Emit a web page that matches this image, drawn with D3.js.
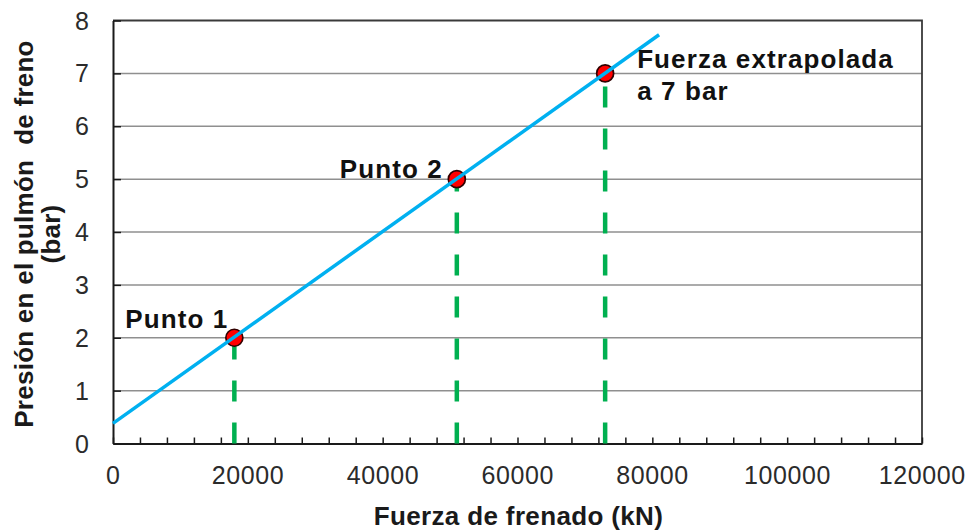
<!DOCTYPE html>
<html>
<head>
<meta charset="utf-8">
<script src="https://cdn.jsdelivr.net/npm/d3@7/dist/d3.min.js"></script>
<style>
  html, body { margin: 0; padding: 0; background: #fff; }
  svg { display: block; }
  text { font-family: "Liberation Sans", Arial, sans-serif; }
</style>
</head>
<body>
<svg id="chart" width="968" height="530"></svg>
<script>
// ---- data ----
const xTicks = [0, 20000, 40000, 60000, 80000, 100000, 120000];
const yTicks = [0, 1, 2, 3, 4, 5, 6, 7, 8];
const pointLabels = ["Punto 1", "Punto 2", "Fuerza extrapolada|a 7 bar"];
const pointForce = [18000, 51000, 73000];
const pointPressure = [2, 5, 7];
const lineForce = [0, 81000];
const linePressure = [0.38, 7.73];
const xTitle = "Fuerza de frenado (kN)";
const yTitle = ["Presión en el pulmón  de freno", "(bar)"];

// ---- layout ----
const plotL = 113, plotR = 922, plotT = 20.5, plotB = 443.5;

const svg = d3.select("#chart");
const x = d3.scaleLinear().domain([0, 120000]).range([plotL, plotR]);
const y = d3.scaleLinear().domain([0, 8]).range([plotB, plotT]);

// gridlines
svg.append("g").selectAll("line").data(yTicks.filter(v => v > 0 && v < 8)).join("line")
  .attr("x1", plotL).attr("x2", plotR)
  .attr("y1", d => y(d)).attr("y2", d => y(d))
  .attr("stroke", "#8f8f8f").attr("stroke-width", 1.5);

// plot border (top, right)
svg.append("path")
  .attr("d", `M${plotL},${plotT}H${plotR}V${plotB}`)
  .attr("fill", "none").attr("stroke", "#3a3a3a").attr("stroke-width", 1.8);

// x axis with inward minor ticks every 4000
const xAxis = d3.axisBottom(x).tickValues(d3.range(0, 120001, 4000))
  .tickSize(-6).tickSizeOuter(0).tickFormat("");
const gx = svg.append("g").attr("transform", `translate(0,${plotB})`).call(xAxis);
gx.select(".domain").attr("stroke", "#1a1a1a").attr("stroke-width", 2);
gx.selectAll(".tick line").attr("stroke", "#1a1a1a").attr("stroke-width", 1.5);

svg.append("g").selectAll("text").data(xTicks).join("text")
  .attr("x", d => x(d) + 0.3).attr("y", 484)
  .attr("text-anchor", "middle")
  .attr("font-size", 25).attr("fill", "#2b2b2b")
  .attr("letter-spacing", 0.6)
  .text(d => d);

// y axis with inward ticks
const yAxis = d3.axisLeft(y).tickValues(yTicks).tickSize(-8).tickSizeOuter(0).tickFormat("");
const gy = svg.append("g").attr("transform", `translate(${plotL},0)`).call(yAxis);
gy.select(".domain").attr("stroke", "#1a1a1a").attr("stroke-width", 2);
gy.selectAll(".tick line").attr("stroke", "#1a1a1a").attr("stroke-width", 1.5);

svg.append("g").selectAll("text").data(yTicks).join("text")
  .attr("x", 89).attr("y", d => y(d))
  .attr("dy", "0.36em")
  .attr("text-anchor", "end")
  .attr("font-size", 25).attr("fill", "#2b2b2b")
  .text(d => d);

// green dashed drop lines (drawn from axis upward)
svg.append("g").selectAll("line").data(pointForce).join("line")
  .attr("x1", d => x(d)).attr("x2", d => x(d))
  .attr("y1", plotB).attr("y2", (d, i) => y(pointPressure[i]))
  .attr("stroke", "#00b050").attr("stroke-width", 4.5)
  .attr("stroke-dasharray", "21,21");

// points
svg.append("g").selectAll("circle").data(pointForce).join("circle")
  .attr("cx", d => x(d)).attr("cy", (d, i) => y(pointPressure[i]))
  .attr("r", 8.5)
  .attr("fill", "#ff0000").attr("stroke", "#300000").attr("stroke-width", 1.7);

// regression line
const lineData = lineForce.map((f, i) => [f, linePressure[i]]);
svg.append("path")
  .datum(lineData)
  .attr("d", d3.line().x(d => x(d[0])).y(d => y(d[1])))
  .attr("fill", "none").attr("stroke", "#00b0f0").attr("stroke-width", 3.5);

// point labels
const labelPos = [
  { dx: -6, dy: -10, anchor: "end" },
  { dx: -14, dy: -1, anchor: "end" },
  { dx: 32, dy: -5, anchor: "start" }
];
pointLabels.forEach((lab, i) => {
  const lines = lab.split("|");
  const t = svg.append("text")
    .attr("font-size", 26).attr("font-weight", "bold").attr("fill", "#111")
    .attr("letter-spacing", 1.1)
    .attr("text-anchor", labelPos[i].anchor);
  lines.forEach((ln, j) => {
    t.append("tspan")
      .attr("x", x(pointForce[i]) + labelPos[i].dx)
      .attr("y", y(pointPressure[i]) + labelPos[i].dy + j * 32)
      .text(ln);
  });
});

// axis titles
svg.append("text")
  .attr("x", (plotL + plotR) / 2 + 1).attr("y", 525)
  .attr("text-anchor", "middle")
  .attr("font-size", 26).attr("font-weight", "bold").attr("fill", "#1a1a1a")
  .attr("letter-spacing", 0.35)
  .text(xTitle);

const yt = svg.append("text")
  .attr("transform", "translate(33,234) rotate(-90)")
  .attr("text-anchor", "middle")
  .attr("font-size", 26).attr("font-weight", "bold").attr("fill", "#1a1a1a")
  .attr("letter-spacing", 0.25)
  .style("white-space", "pre");
yTitle.forEach((ln, j) => {
  yt.append("tspan").attr("x", 0).attr("y", j * 27).text(ln);
});
</script>
</body>
</html>
